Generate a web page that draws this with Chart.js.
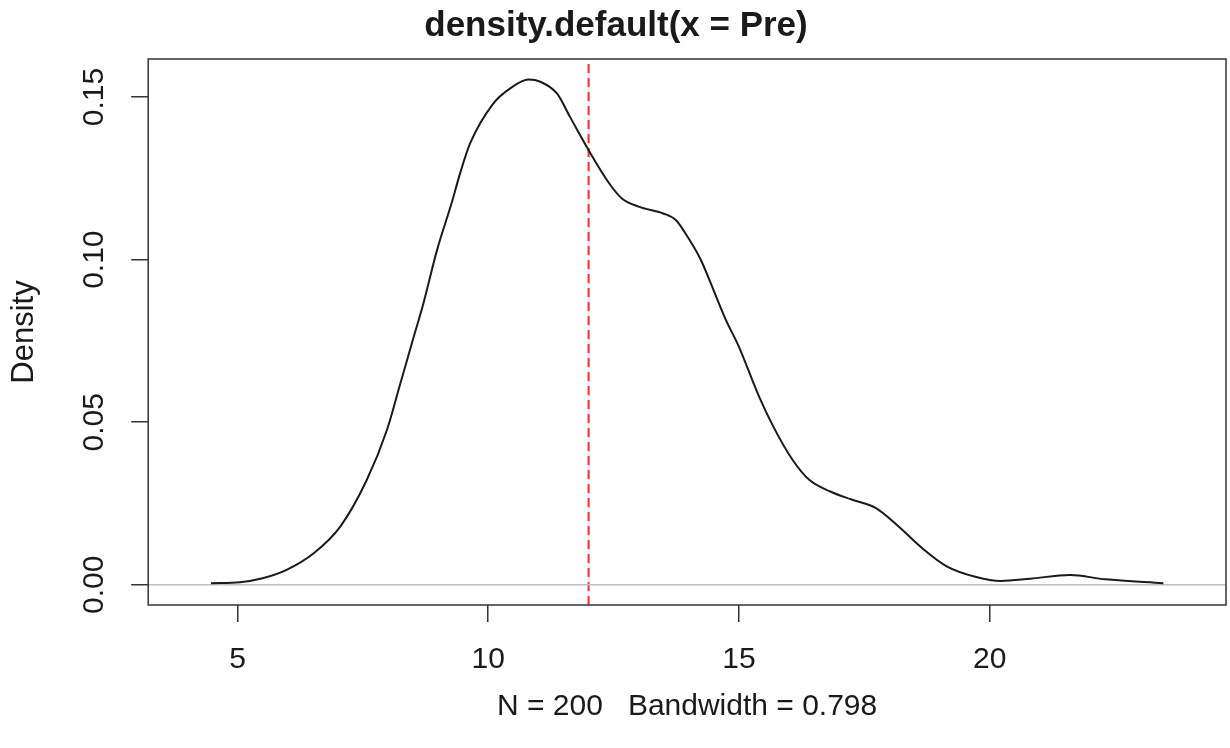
<!DOCTYPE html>
<html>
<head>
<meta charset="utf-8">
<script src="https://cdn.jsdelivr.net/npm/chart.js@4.4.1/dist/chart.umd.min.js"></script>
<style>
  body { margin: 0; background: #fff; }
</style>
</head>
<body>
<canvas id="Chart" width="1230" height="748"></canvas>
<script>
// Density estimate
var densityX = [4.47, 5.05, 5.5, 5.98, 6.52, 7.05, 7.58, 7.98, 8.24, 8.5, 8.71, 8.98, 9.27, 9.44, 9.64, 10.1, 10.45, 10.8, 11.04, 11.37, 11.63, 12.0,
    12.41, 12.66, 13.0, 13.49, 13.74, 13.91, 14.24, 14.49, 14.74, 14.99, 15.4, 15.7, 16.07, 16.4, 16.82, 17.23, 17.73, 18.15, 18.65,
    19.15, 19.73, 20.22, 20.81, 21.6, 22.3, 23.46];
var densityY = [0.0005, 0.0008, 0.002, 0.0046, 0.0097, 0.0179, 0.0323, 0.0476, 0.0615, 0.0755, 0.0867, 0.103, 0.1174, 0.1266, 0.1358, 0.148, 0.1528, 0.1554, 0.1547, 0.1511, 0.1439, 0.1337,
    0.1235, 0.1189, 0.1163, 0.1142, 0.1122, 0.1086, 0.0999, 0.0907, 0.0814, 0.0735, 0.0579, 0.0482, 0.0384, 0.0323, 0.0287, 0.0263, 0.0236, 0.0184, 0.0113,
    0.0056, 0.0024, 0.0012, 0.0019, 0.0030, 0.0017, 0.0005];

// mean of Pre (red dashed line)
var meanPre = [12.0];

// axis ranges and ticks
var xRange = [3.22, 24.71];
var yRange = [-0.0062, 0.1617];
var xStep = 5;
var yStep = 0.05;

var titleText = 'density.default(x = Pre)';
var xTitle = 'N = 200   Bandwidth = 0.798';
var yTitle = 'Density';

var fontName = '"Liberation Sans", Arial, sans-serif';
var ink = '#1a1a1a';

var curve = densityX.map(function (x, i) { return { x: x, y: densityY[i] }; });
var zeroLine = [{ x: xRange[0], y: 0 }, { x: xRange[1], y: 0 }];
var meanLine = [{ x: meanPre[0], y: yRange[0] }, { x: meanPre[0], y: yRange[1] }];

// box around the plot + rotated y tick labels (R style)
var rStyle = {
    id: 'rStyle',
    afterDraw: function (chart) {
        var ctx = chart.ctx;
        var a = chart.chartArea;
        ctx.save();
        ctx.strokeStyle = '#333';
        ctx.lineWidth = 1.5;
        ctx.strokeRect(a.left, a.top, a.right - a.left, a.bottom - a.top);

        var ys = chart.scales.y;
        ctx.fillStyle = ink;
        ctx.font = '30px ' + fontName;
        ctx.textAlign = 'center';
        ctx.textBaseline = 'middle';
        ys.ticks.forEach(function (t) {
            var py = ys.getPixelForValue(t.value);
            ctx.save();
            ctx.translate(95, py);
            ctx.rotate(-Math.PI / 2);
            ctx.fillText(t.value.toFixed(2), 0, 0);
            ctx.restore();
        });
        ctx.restore();
    }
};

var config = {
    type: 'line',
    data: {
        datasets: [
            {
                label: 'density',
                data: curve,
                borderColor: ink,
                borderWidth: 2,
                pointRadius: 0,
                cubicInterpolationMode: 'monotone',
                fill: false
            },
            {
                label: 'zero',
                data: zeroLine,
                borderColor: '#bebebe',
                borderWidth: 1.5,
                pointRadius: 0,
                fill: false
            },
            {
                label: 'mean',
                data: meanLine,
                borderColor: '#ff2a2a',
                borderWidth: 2,
                borderDash: [9, 5],
                pointRadius: 0,
                fill: false
            }
        ]
    },
    options: {
        responsive: false,
        animation: false,
        events: [],
        layout: { padding: { left: 6, right: 4, top: 0, bottom: 0 } },
        plugins: {
            legend: { display: false },
            tooltip: { enabled: false },
            title: {
                display: true,
                text: titleText,
                color: ink,
                font: { family: fontName, size: 35, weight: 'bold' },
                padding: { top: 5, bottom: 12 }
            }
        },
        scales: {
            x: {
                type: 'linear',
                min: xRange[0],
                max: xRange[1],
                border: { display: false },
                grid: {
                    drawOnChartArea: false,
                    drawTicks: true,
                    tickLength: 17,
                    color: '#333',
                    lineWidth: 1.5
                },
                ticks: {
                    stepSize: xStep,
                    includeBounds: false,
                    padding: 20,
                    maxRotation: 0,
                    color: ink,
                    font: { family: fontName, size: 30 }
                },
                title: {
                    display: true,
                    text: xTitle,
                    color: ink,
                    font: { family: fontName, size: 30 },
                    padding: { top: -9, bottom: 23 }
                }
            },
            y: {
                type: 'linear',
                min: yRange[0],
                max: yRange[1],
                border: { display: false },
                grid: {
                    drawOnChartArea: false,
                    drawTicks: true,
                    tickLength: 17,
                    color: '#333',
                    lineWidth: 1.5
                },
                ticks: {
                    stepSize: yStep,
                    includeBounds: false,
                    display: false
                },
                title: {
                    display: true,
                    text: yTitle,
                    color: ink,
                    font: { family: fontName, size: 31 },
                    padding: { top: 0, bottom: 88 }
                }
            }
        }
    },
    plugins: [rStyle]
};

var ctx = document.getElementById('Chart').getContext('2d');
var myChart = new Chart(ctx, config);
</script>
</body>
</html>
